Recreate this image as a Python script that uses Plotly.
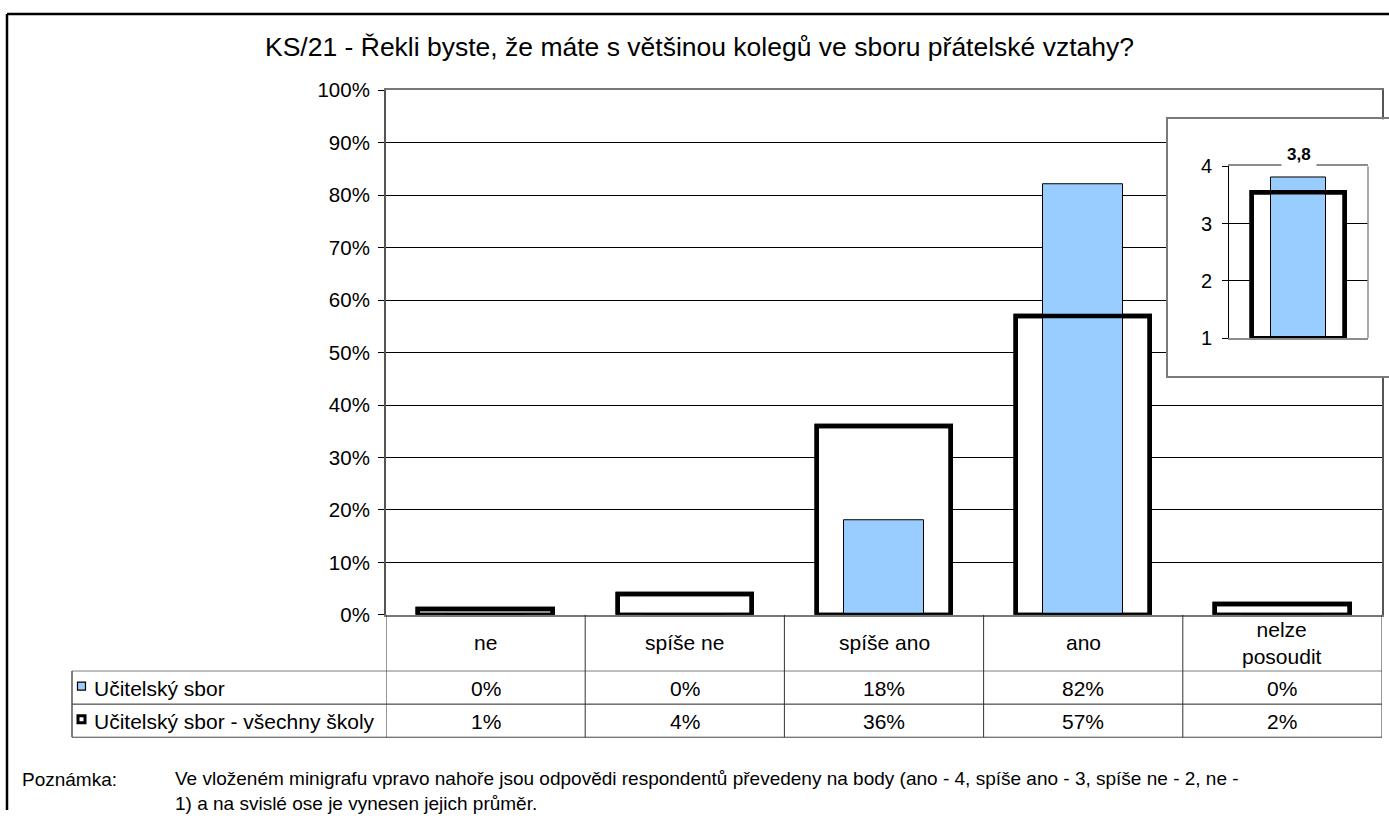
import plotly.graph_objects as go

W, H = 1389, 821

# data
categories = ["ne", "spíše ne", "spíše ano", "ano", "nelze posoudit"]
cat_labels = ["ne", "spíše ne", "spíše ano", "ano", "nelze<br>posoudit"]
school = [0, 0, 18, 82, 0]            # Učitelský sbor
all_schools = [1, 4, 36, 57, 2]       # Učitelský sbor - všechny školy
mean_school = [3.8]
mean_all = [3.55]
series_names = ["Učitelský sbor", "Učitelský sbor - všechny školy"]
y_ticks = [0, 10, 20, 30, 40, 50, 60, 70, 80, 90, 100]
note_lines = ["Ve vloženém minigrafu vpravo nahoře jsou odpovědi respondentů převedeny na body "
              "(ano - 4, spíše ano - 3, spíše ne - 2, ne -",
              "1) a na svislé ose je vynesen jejich průměr."]

BLUE = "#99CCFF"
FONT = "Liberation Sans, Arial, sans-serif"

# the photographed page shows the figure shifted down and squeezed a little,
# so vertical pixel positions are corrected with this offset / scale
Y_OFF, Y_SCALE = 12.0, 0.969


def px(x):
    return x / W


def py(y):
    yf = (y - Y_OFF) / Y_SCALE
    return min(1.0, max(0.0, 1 - yf / H))


fig = go.Figure()

# main chart: white-filled outline, blue bar, outline on top
fig.add_trace(go.Bar(x=categories, y=all_schools, width=0.675,
                     marker=dict(color="white", line=dict(color="black", width=4.5)),
                     showlegend=False, hoverinfo="skip"))
fig.add_trace(go.Bar(x=categories, y=school, width=0.4, name=series_names[0],
                     marker=dict(color=BLUE, line=dict(color="black", width=1))))
fig.add_trace(go.Bar(x=categories, y=all_schools, width=0.675, name=series_names[1],
                     marker=dict(color="rgba(0,0,0,0)", line=dict(color="black", width=4.5))))

# inset background box (own subplot so it hides the main gridlines)
fig.add_trace(go.Scatter(x=[None], y=[None], xaxis="x2", yaxis="y2",
                         showlegend=False, hoverinfo="skip"))

# inset minichart
ins_cat = [""]
fig.add_trace(go.Bar(x=ins_cat, y=[v - 1 for v in mean_all], base=1, width=0.67,
                     xaxis="x3", yaxis="y3",
                     marker=dict(color="white", line=dict(color="black", width=4.5)),
                     showlegend=False, hoverinfo="skip"))
fig.add_trace(go.Bar(x=ins_cat, y=[v - 1 for v in mean_school], base=1, width=0.4,
                     xaxis="x3", yaxis="y3",
                     marker=dict(color=BLUE, line=dict(color="black", width=1)),
                     showlegend=False))
fig.add_trace(go.Bar(x=ins_cat, y=[v - 1 for v in mean_all], base=1, width=0.67,
                     xaxis="x3", yaxis="y3",
                     marker=dict(color="rgba(0,0,0,0)", line=dict(color="black", width=4.5)),
                     showlegend=False))

shapes = []
# outer frame (only top and left are inside the picture)
top_line = 1 - 2.0 / H
shapes.append(dict(type="line", xref="paper", yref="paper",
                   x0=px(7), x1=1, y0=top_line, y1=top_line,
                   line=dict(color="black", width=2.5)))
shapes.append(dict(type="line", xref="paper", yref="paper",
                   x0=px(7), x1=px(7), y0=top_line, y1=0,
                   line=dict(color="black", width=2.5)))

# table grid
tab_top, row1, row2, tab_bot = 613, 669, 702, 735
for yy, col in ((row1, "#7f7f7f"), (row2, "#222222"), (tab_bot, "#444444")):
    shapes.append(dict(type="line", xref="paper", yref="paper",
                       x0=px(72), x1=px(1382), y0=py(yy), y1=py(yy),
                       line=dict(color=col, width=1)))
shapes.append(dict(type="line", xref="paper", yref="paper",
                   x0=px(72), x1=px(72), y0=py(row1), y1=py(tab_bot),
                   line=dict(color="#555555", width=1.5)))
for i in range(len(categories) + 1):
    shapes.append(dict(type="line", xref="x", yref="paper",
                       x0=i - 0.5, x1=i - 0.5, y0=py(tab_top), y1=py(tab_bot),
                       line=dict(color="#333333", width=1)))

# legend keys
shapes.append(dict(type="rect", xref="paper", yref="paper",
                   x0=px(77.5), x1=px(85.5), y0=py(688), y1=py(680),
                   fillcolor=BLUE, line=dict(color="black", width=1.2)))
shapes.append(dict(type="rect", xref="paper", yref="paper",
                   x0=px(78), x1=px(85), y0=py(720.5), y1=py(713.5),
                   fillcolor="white", line=dict(color="black", width=3)))

# inset right frame line
shapes.append(dict(type="line", xref="x3 domain", yref="y3 domain",
                   x0=1, x1=1, y0=0, y1=1, line=dict(color="#8c8c8c", width=1.5)))

annotations = [
    dict(text="KS/21 - Řekli byste, že máte s většinou kolegů ve sboru přátelské vztahy?",
         x=px(699), y=py(47), xref="paper", yref="paper", xanchor="center",
         yanchor="middle", showarrow=False, font=dict(size=26.5)),
]
for c, lab in zip(categories, cat_labels):
    annotations.append(dict(text=lab, x=c, y=py(641), xref="x", yref="paper",
                            xanchor="center", yanchor="middle",
                            showarrow=False, font=dict(size=21)))
for c, a, b in zip(categories, school, all_schools):
    annotations.append(dict(text=f"{a}%", x=c, y=py(686), xref="x", yref="paper",
                            xanchor="center", yanchor="middle",
                            showarrow=False, font=dict(size=21)))
    annotations.append(dict(text=f"{b}%", x=c, y=py(719), xref="x", yref="paper",
                            xanchor="center", yanchor="middle",
                            showarrow=False, font=dict(size=21)))
for name, yy in zip(series_names, (686, 719)):
    annotations.append(dict(text=name, x=px(92), y=py(yy), xref="paper", yref="paper",
                            xanchor="left", yanchor="middle",
                            showarrow=False, font=dict(size=21)))

# mean label in inset
annotations.append(dict(text="<b>" + f"{mean_school[0]:.1f}".replace(".", ",") + "</b>",
                        x=ins_cat[0], y=4, xref="x3", yref="y3", yshift=12,
                        xanchor="center", yanchor="middle",
                        showarrow=False, bgcolor="white", borderpad=5,
                        font=dict(size=17)))

annotations.append(dict(text="Poznámka:", x=px(20), y=py(777), xref="paper",
                        yref="paper", xanchor="left", yanchor="middle", showarrow=False,
                        font=dict(size=19)))
annotations.append(dict(text="<br>".join(note_lines),
                        x=px(173), y=py(789), xref="paper", yref="paper",
                        xanchor="left", yanchor="middle", align="left", showarrow=False,
                        font=dict(size=19)))

fig.update_layout(
    width=W, height=H,
    margin=dict(l=0, r=0, t=0, b=0),
    paper_bgcolor="white", plot_bgcolor="white",
    font=dict(family=FONT, size=20, color="black"),
    barmode="overlay", bargap=0,
    showlegend=False,
    xaxis=dict(domain=[px(386), px(1382)], showticklabels=False, ticks="",
               showline=True, linecolor="#777777", linewidth=1.5, mirror=True,
               range=[-0.5, 4.5], fixedrange=True),
    yaxis=dict(domain=[py(613), py(90)], range=[0, 100], tickvals=y_ticks,
               ticktext=[f"{t}%" for t in y_ticks], ticks="outside", ticklen=6,
               tickcolor="black", showgrid=True, gridcolor="black", gridwidth=1,
               showline=True, linecolor="#555555", linewidth=2, mirror=True,
               zeroline=False, fixedrange=True, tickfont=dict(size=20.5),
               ticklabelstandoff=4),
    xaxis2=dict(domain=[px(1168), 1.0], anchor="y2", showticklabels=False, ticks="",
                showgrid=False, zeroline=False, showline=True, linecolor="#7a7a7a",
                linewidth=2, mirror=True, range=[0, 1], fixedrange=True),
    yaxis2=dict(domain=[py(375), py(119)], anchor="x2", showticklabels=False, ticks="",
                showgrid=False, zeroline=False, showline=True, linecolor="#7a7a7a",
                linewidth=2, range=[0, 1], fixedrange=True),
    xaxis3=dict(domain=[px(1229), px(1368)], anchor="y3", showticklabels=False, ticks="",
                showgrid=False, zeroline=False, showline=True, linecolor="#8c8c8c",
                linewidth=1.5, mirror=True, range=[-0.5, 0.5], fixedrange=True),
    yaxis3=dict(domain=[py(337), py(166)], anchor="x3", range=[1, 4], dtick=1,
                ticks="outside", ticklen=6, tickcolor="black", showgrid=True,
                gridcolor="black", gridwidth=1, showline=True, linecolor="black",
                linewidth=1, zeroline=False, fixedrange=True, tickfont=dict(size=20),
                ticklabelstandoff=6),
    shapes=shapes,
    annotations=annotations,
)

# pin the figure to the top-left corner of the page
pin = ("var gd=document.getElementById('{plot_id}');"
       "gd.style.position='fixed';gd.style.left='0px';gd.style.top='0px';"
       "document.body.style.margin='0px';document.body.style.height='821px';"
       "document.body.style.overflow='hidden';"
       "document.documentElement.style.overflow='hidden';")
fig.write_html("out.html", config={"responsive": False, "displayModeBar": False},
               post_script=pin)
